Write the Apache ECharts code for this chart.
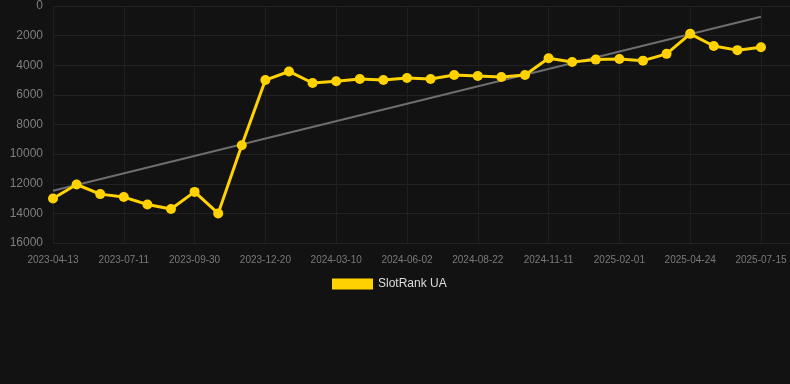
<!DOCTYPE html>
<html>
<head>
<meta charset="utf-8">
<script src="https://cdn.jsdelivr.net/npm/echarts@6/dist/echarts.min.js"></script>
<style>
html,body{margin:0;padding:0;background:#121212;}
#chart{width:790px;height:384px;}
</style>
</head>
<body>
<div id="chart"></div>
<script>
var dates = ['2023-04-13','2023-05-13','2023-06-12','2023-07-11','2023-08-07','2023-09-03','2023-09-30','2023-10-27','2023-11-23','2023-12-20','2024-01-16','2024-02-12','2024-03-10','2024-04-07','2024-05-05','2024-06-02','2024-06-29','2024-07-26','2024-08-22','2024-09-18','2024-10-15','2024-11-11','2024-12-08','2025-01-04','2025-02-01','2025-02-28','2025-03-27','2025-04-24','2025-05-21','2025-06-17','2025-07-15'];
var rankUA = [13000,12050,12700,12900,13400,13700,12550,14000,9400,5000,4420,5200,5080,4930,5000,4860,4930,4660,4730,4790,4660,3530,3780,3620,3580,3690,3230,1880,2700,2980,2780];
var trendEnds = [12470, 720];
var yTicks = [0,2000,4000,6000,8000,10000,12000,14000,16000];

var lineData = rankUA.map(function(v,i){return [i,v];});
var trendData = [[0,trendEnds[0]],[dates.length-1,trendEnds[1]]];

var chart = echarts.init(document.getElementById('chart'));
chart.setOption({
  backgroundColor:'#121212',
  animation:false,
  grid:{left:53,right:0,top:6,bottom:141},
  legend:{
    data:['SlotRank UA'],
    top:273,
    left:327,
    itemWidth:41,
    itemHeight:11,
    icon:'rect',
    itemGap:10,
    textStyle:{color:'#dddddd',fontSize:12,fontFamily:'Arial, Liberation Sans, sans-serif'}
  },
  xAxis:{
    type:'value',
    min:0,
    max:31.23,
    interval:3,
    axisLine:{show:false},
    axisTick:{show:false},
    splitLine:{show:true,lineStyle:{color:'#1f1f1f',width:1}},
    axisLabel:{
      color:'#7a7a7a',fontSize:10,margin:12,fontFamily:'Arial, Liberation Sans, sans-serif',
      showMaxLabel:false,
      formatter:function(v){return (Number.isInteger(v) && dates[v]) ? dates[v] : '';}
    }
  },
  yAxis:{
    type:'value',
    inverse:true,
    min:yTicks[0],
    max:yTicks[yTicks.length-1],
    interval:2000,
    axisLine:{show:false},
    axisTick:{show:false},
    splitLine:{show:true,lineStyle:{color:'#222222',width:1}},
    axisLabel:{color:'#7f7f7f',fontSize:12,margin:10,fontFamily:'Arial, Liberation Sans, sans-serif',
      formatter:function(v){return String(v);}}
  },
  series:[
    {
      name:'SlotRank UA',
      type:'line',
      data:lineData,
      symbol:'circle',
      symbolSize:10,
      lineStyle:{color:'#ffd200',width:3},
      itemStyle:{color:'#ffd200'},
      z:3
    },
    {
      name:'trend',
      type:'line',
      data:trendData,
      symbol:'none',
      lineStyle:{color:'#6e6e6e',width:2},
      itemStyle:{color:'#6e6e6e'},
      z:2,
      silent:true
    }
  ]
});
</script>
</body>
</html>
